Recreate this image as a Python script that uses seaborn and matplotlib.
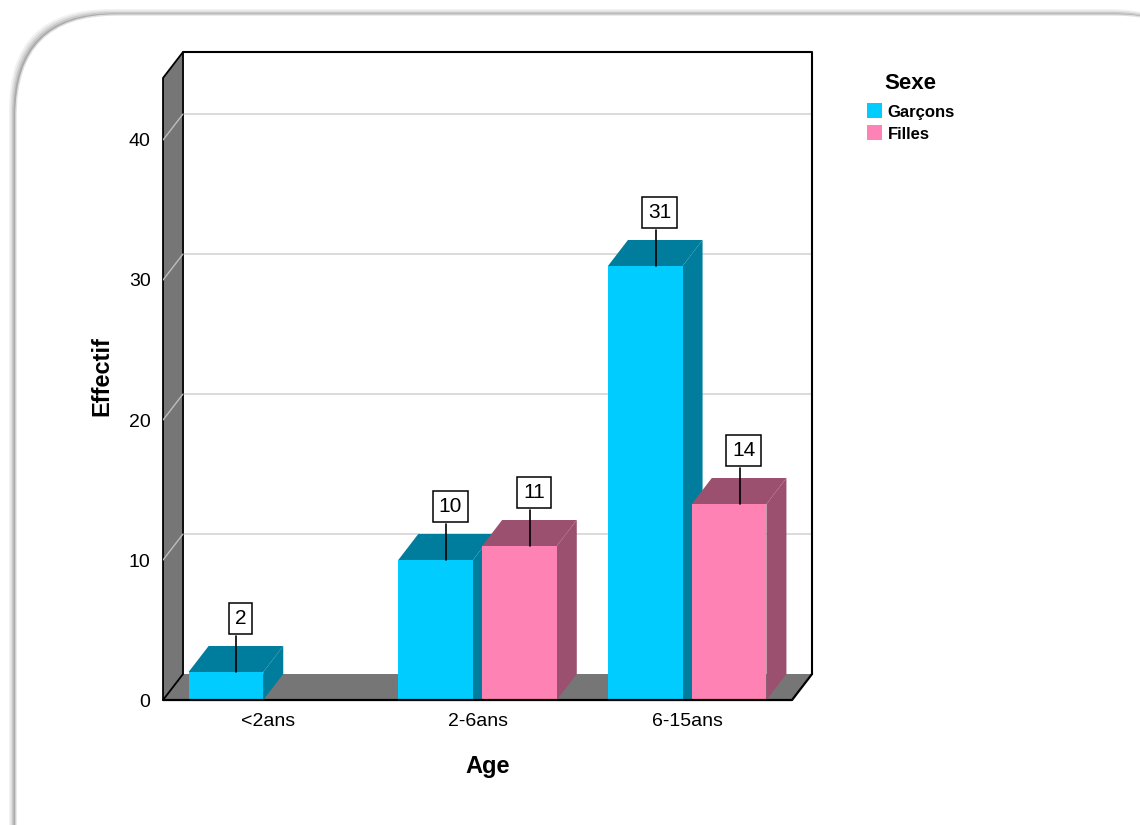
import matplotlib
matplotlib.use("Agg")
import matplotlib.pyplot as plt
from matplotlib.patches import Polygon, FancyBboxPatch
import seaborn as sns
import pandas as pd

# data
ages = ["<2ans", "2-6ans", "6-15ans"]
sexes = ["Garçons", "Filles"]
garcons = [2, 10, 31]
filles = [0, 11, 14]

front_colors = {"Garçons": "#00ccff", "Filles": "#ff82b4"}
side_colors = {"#00ccff": "#007d9c", "#ff82b4": "#9c506f"}

df = pd.DataFrame({
    "Age": ages * 2,
    "Sexe": ["Garçons"] * 3 + ["Filles"] * 3,
    "Effectif": garcons + filles,
})

sns.set_style("white")
plt.rcParams["font.family"] = ["Liberation Sans", "DejaVu Sans"]
plt.rcParams["text.color"] = "black"
plt.rcParams["axes.labelcolor"] = "black"

fig = plt.figure(figsize=(11.4, 8.25), dpi=100)

# rounded frame with soft shadow (behind the axes)
for i, a in enumerate([0.05, 0.07, 0.1, 0.14]):
    g = 0.06 - i * 0.015
    fig.patches.append(FancyBboxPatch((0.15 - g, -1), 12, 9.1 + g, boxstyle="round,pad=0,rounding_size=1.0",
                                      transform=fig.dpi_scale_trans, fc="black", ec="none", alpha=a, zorder=-2))
fig.patches.append(FancyBboxPatch((0.16, -1), 12, 9.1, boxstyle="round,pad=0,rounding_size=1.0",
                                  transform=fig.dpi_scale_trans, fc="white", ec="#e0e0e0", lw=1, zorder=-1))

ax = fig.add_axes([0.143, 0.1515, 0.5693, 0.7855])
ax.patch.set_alpha(0)

sns.barplot(data=df, x="Age", y="Effectif", hue="Sexe", order=ages, hue_order=sexes,
            palette=front_colors, gap=0.11, saturation=1, errorbar=None, ax=ax, zorder=3,
            edgecolor="none", linewidth=0)
bars = list(ax.patches)

ddx, ddy = 0.0954, 1.857
x0, x1 = -0.5, 2.5
ytop = 44.43
ax.set_xlim(x0, x1 + ddx)
ax.set_ylim(0, ytop + ddy)

# walls
ax.add_patch(Polygon([(x0, 0), (x0, ytop), (x0 + ddx, ytop + ddy), (x0 + ddx, ddy)],
                     closed=True, fc="#767676", ec="black", lw=1.3, zorder=1.5, clip_on=False))
ax.add_patch(Polygon([(x0, 0), (x1, 0), (x1 + ddx, ddy), (x0 + ddx, ddy)],
                     closed=True, fc="#767676", ec="none", zorder=1.4, clip_on=False))
ax.plot([x0, x1, x1 + ddx], [0, 0, ddy], color="black", lw=1.6, zorder=3.5, clip_on=False)
ax.plot([x0 + ddx, x1 + ddx, x1 + ddx], [ytop + ddy, ytop + ddy, ddy], color="black", lw=1.5,
        zorder=1.6, clip_on=False)
for v in [10, 20, 30, 40]:
    ax.plot([x0 + ddx, x1 + ddx], [v + ddy, v + ddy], color="#d4d4d4", lw=1.2, zorder=1)
    ax.plot([x0, x0 + ddx], [v, v + ddy], color="#bdbdbd", lw=1.0, zorder=1.7)

# 3D faces and value labels
starts = [b.get_x() for b in bars if b.get_height() > 0]
for b in bars:
    h = b.get_height()
    if h <= 0:
        continue
    x, w = b.get_x(), b.get_width()
    fc = matplotlib.colors.to_hex(b.get_facecolor())
    sc = side_colors.get(fc, "#555555")
    # side reaches the floor line when another bar stands right next to it
    neighbour = any(0 < s - (x + w) < ddx for s in starts)
    base = 0 if neighbour else ddy
    ax.add_patch(Polygon([(x, h), (x + w, h), (x + w + ddx, h + ddy), (x + ddx, h + ddy)],
                         closed=True, fc=sc, ec="none", zorder=2.5))
    ax.add_patch(Polygon([(x + w, 0), (x + w, h), (x + w + ddx, h + ddy), (x + w + ddx, base)],
                         closed=True, fc=sc, ec="none", zorder=2.5))
    cx = x + w / 2
    ax.plot([cx + 0.05, cx + 0.05], [h, h + 2.6], color="black", lw=1.2, zorder=9)
    ax.text(cx + 0.07, h + 3.8, f"{int(h)}", ha="center", va="center", fontsize=15, zorder=10,
            bbox=dict(boxstyle="square,pad=0.28", fc="white", ec="black", lw=1.1))

sns.despine(ax=ax, left=True, bottom=True)
ax.set_yticks([0, 10, 20, 30, 40])
ax.tick_params(axis="both", length=0, labelsize=14, colors="black")
ax.tick_params(axis="y", pad=9)
ax.tick_params(axis="x", pad=9)
ax.set_xlabel("Age", fontsize=17, fontweight="bold", labelpad=18)
ax.set_ylabel("Effectif", fontsize=17, fontweight="bold", labelpad=11)

leg = ax.get_legend()
handles = leg.legend_handles
leg.remove()
lg = ax.legend(handles, sexes, title="Sexe", loc="upper left", bbox_to_anchor=(0.747, 0.93),
               bbox_transform=fig.transFigure, frameon=False, handlelength=0.95, handleheight=1.0,
               handletextpad=0.3, labelspacing=0.35, prop={"size": 12, "weight": "bold"},
               title_fontproperties={"size": 16, "weight": "bold"})
lg._legend_box.align = "center"
lg._legend_box.sep = 7

fig.savefig("out.png", dpi=100)
